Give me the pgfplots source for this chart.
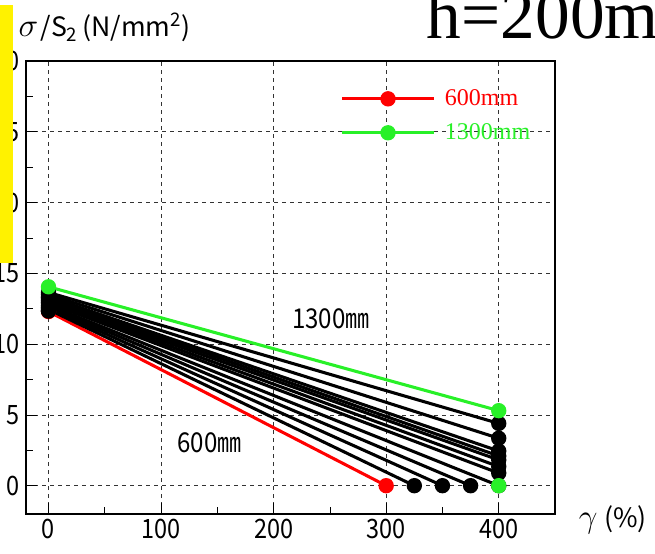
\documentclass[border=0pt]{standalone}
\usepackage{pgfplots}
\pgfplotsset{compat=1.18}
\usepackage{fontspec}
\setmainfont{Liberation Serif}
\newfontfamily\jp[FakeStretch=0.88]{Noto Sans CJK JP}
\newfontfamily\jpw{Noto Sans CJK JP}
\definecolor{mygreen}{RGB}{40,240,40}
\definecolor{myred}{RGB}{255,0,0}
\begin{document}
\begin{tikzpicture}
\path[use as bounding box] (0pt,0pt) rectangle (491.25pt,414.75pt);
\clip (0pt,0pt) rectangle (491.25pt,414.75pt);
\begin{axis}[
  at={(19.5pt,29.25pt)}, anchor=south west,
  width=396.75pt, height=339.75pt, scale only axis,
  xmin=-20, xmax=450, ymin=-2, ymax=30,
  xtick={0,100,200,300,400}, minor xtick={50,150,250,350},
  ytick={0,5,10,15,20,25,30}, minor ytick={2.5,7.5,12.5,17.5,22.5,27.5},
  xtick pos=bottom, ytick pos=left,
  tick align=inside,
  major tick length=8pt, minor tick length=5.5pt,
  tick style={black, line width=0.6pt},
  grid=major,
  major grid style={black!80, line width=0.6pt, dash pattern=on 3pt off 3pt},
  axis line style={line width=2.2pt},
  /pgf/number format/assume math mode=true,
  tick label style={font=\jp\fontsize{20}{20}\selectfont},
  yticklabel style={xshift=-1pt},
  every axis y label/.style={at={(axis description cs:-0.0227,1.053)}, anchor=base west, rotate=0},
  ylabel={{\fontsize{26}{26}\selectfont$\sigma$}\,{\jpw\fontsize{20}{20}\selectfont /S\textsubscript{2}\,(N/mm\textsuperscript{2})}},
  every axis x label/.style={at={(axis description cs:1.036,-0.013)}, anchor=west},
  xlabel={{\fontsize{26}{26}\selectfont$\gamma$}\hspace{5pt}{\jpw\fontsize{20}{20}\selectfont (\%)}},
  legend style={draw=none, fill=none, inner sep=0pt,
    at={(axis description cs:0.594,0.879)}, anchor=west,
    font=\fontsize{18}{18}\selectfont, row sep=8pt,
    /tikz/every odd column/.append style={column sep=5pt}},
  legend cell align=left,
  legend image code/.code={\draw[mark repeat=2, mark phase=2, #1] plot coordinates {(0pt,0pt) (34.5pt,0pt) (69pt,0pt)};},
  every axis plot/.append style={line width=2.3pt, mark=*, mark size=4.6pt},
]
% red
\addplot[myred] coordinates {(0,12.3) (300,0)};
\addlegendentry{\textcolor{myred}{600mm}}
% black lines
\addplot[black, forget plot] coordinates {(0,13.65) (400,4.4)};
\addplot[black, forget plot] coordinates {(0,13.5) (400,3.35)};
\addplot[black, forget plot] coordinates {(0,13.35) (400,2.45)};
\addplot[black, forget plot] coordinates {(0,13.25) (400,2.1)};
\addplot[black, forget plot] coordinates {(0,13.1) (400,1.82)};
\addplot[black, forget plot] coordinates {(0,13.0) (400,1.35)};
\addplot[black, forget plot] coordinates {(0,12.9) (400,0.89)};
\addplot[black, forget plot] coordinates {(0,12.75) (400,0)};
\addplot[black, forget plot] coordinates {(0,12.65) (375,0)};
\addplot[black, forget plot] coordinates {(0,12.55) (350,0)};
\addplot[black, forget plot] coordinates {(0,12.45) (325,0)};
\addplot[black, forget plot] coordinates {(0,12.35) (0,12.35)};
% green
\addplot[mygreen] coordinates {(0,14.05) (400,5.3) (400,0)};
\addlegendentry{\textcolor{mygreen}{1300mm}}
\node[font=\jp\fontsize{20.5}{20.5}\selectfont] at (axis cs:251,11.8) {1300㎜};
\node[font=\jp\fontsize{20.5}{20.5}\selectfont] at (axis cs:143,3.0) {600㎜};
\end{axis}
\fill[yellow] (0pt,217.5pt) rectangle (9.75pt,411pt);
\node[anchor=base west, inner sep=0pt, font=\fontsize{52}{52}\selectfont] at (320pt,385.5pt) {h=200mm};
\end{tikzpicture}
\end{document}
